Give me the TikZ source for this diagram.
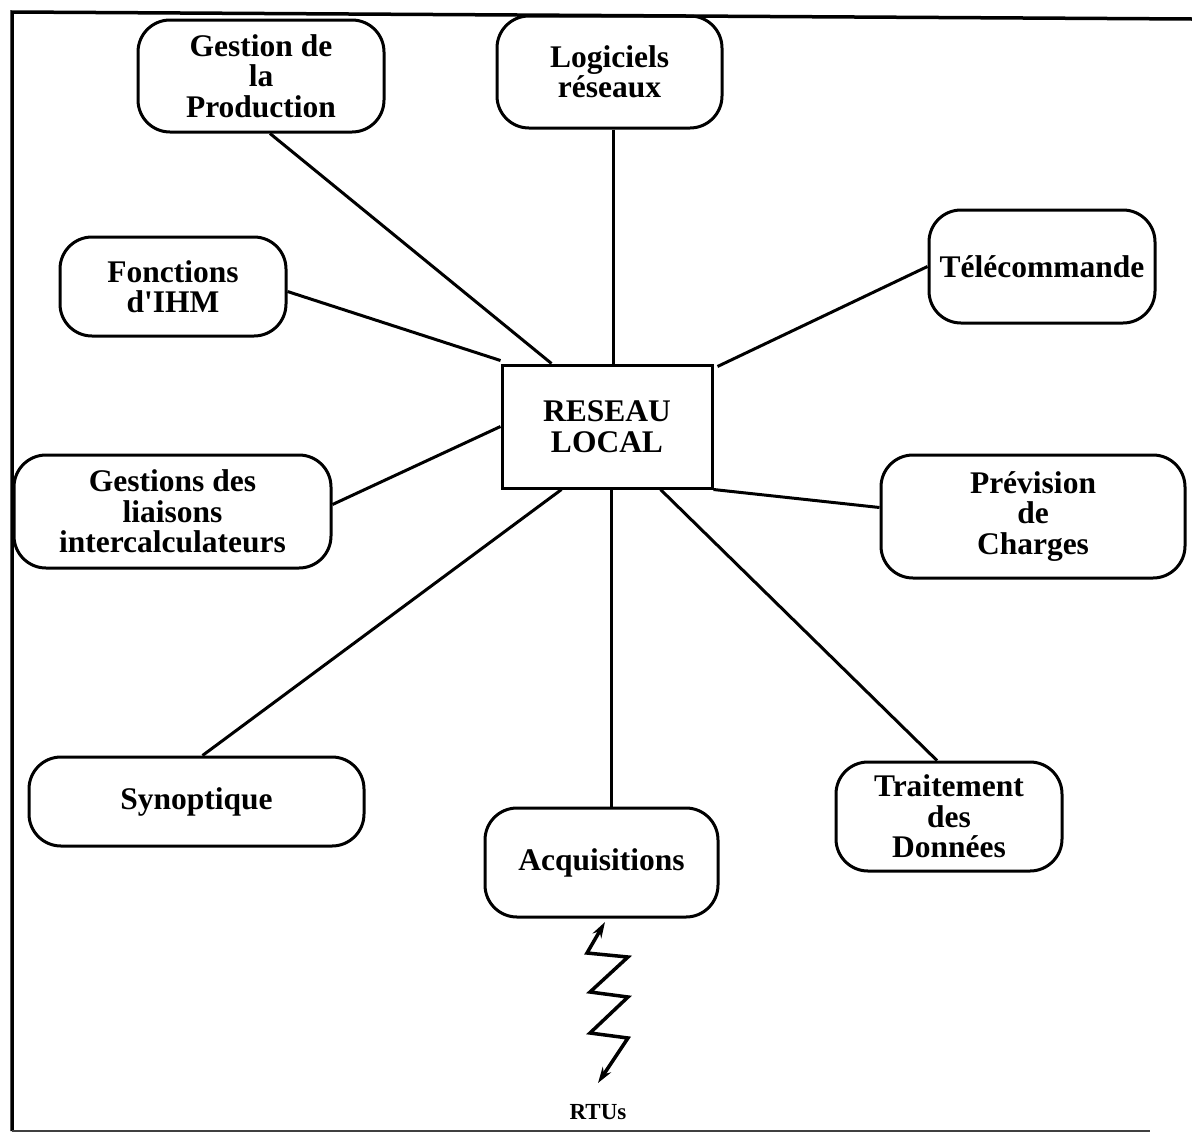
\documentclass[tikz,border=0pt]{standalone}
\usepackage{fontspec}
\newfontfamily\boite{Liberation Serif}
\usetikzlibrary{arrows.meta}
\tikzset{
  bloc/.style={draw, line width=3pt, rounded corners=32pt, align=center,
    inner sep=0pt, font=\boite\bfseries\fontsize{31.5}{30.5}\selectfont},
  centre/.style={draw, line width=3pt, align=center, inner sep=0pt,
    minimum width=210pt, minimum height=123pt,
    font=\boite\bfseries\fontsize{31.5}{31}\selectfont},
  lien/.style={line width=3pt}
}
\begin{document}
\begin{tikzpicture}[x=1pt,y=-1pt]
  \useasboundingbox (0,0) rectangle (1192,1133);
  % cadre
  \draw[line width=3.5pt] (1192,19) -- (12,12) -- (12,1131);
  \draw[line width=1.5pt, black!75] (12,1131) -- (1150,1131);
  % noeuds
  \node[centre] (rl) at (607,426.5) {RESEAU\\LOCAL};
  \node[bloc, minimum width=246pt, minimum height=112pt] (gp) at (261,76) {Gestion de\\la\\Production};
  \node[bloc, minimum width=225pt, minimum height=112pt] (lr) at (609.5,72) {Logiciels\\réseaux};
  \node[bloc, minimum width=226pt, minimum height=113pt] (tc) at (1042,266.5) {Télécommande};
  \node[bloc, minimum width=226pt, minimum height=99pt] (fi) at (173,286.5) {Fonctions\\d'IHM};
  \node[bloc, minimum width=317pt, minimum height=113pt] (gl) at (172.5,511.5) {Gestions des\\liaisons\\intercalculateurs};
  \node[bloc, minimum width=304pt, minimum height=123pt] (pc) at (1033,516.5) {Prévision\\de\\Charges};
  \node[bloc, minimum width=335pt, minimum height=89pt] (sy) at (196.5,801.5) {Synoptique};
  \node[bloc, minimum width=233pt, minimum height=109pt] (ac) at (601.5,862.5) {Acquisitions};
  \node[bloc, minimum width=226pt, minimum height=109pt] (td) at (949,816.5) {Traitement\\des\\Données};
  \node[font=\boite\bfseries\fontsize{23}{23}\selectfont] (rtu) at (598,1112) {RTUs};
  % liaisons
  \begin{scope}[lien]
    \draw ([xshift=9pt]gp.south) -- ([xshift=51pt]rl.north west);
    \draw ([xshift=4pt]lr.south) -- ([xshift=4pt]lr.south |- rl.north);
    \draw (tc.west) -- ([xshift=4pt,yshift=-3pt]rl.north east);
    \draw ([yshift=-5pt]fi.east) -- ([yshift=3pt]rl.north west);
    \draw ([yshift=7pt]gl.east) -- (rl.west);
    \draw ([yshift=9pt]pc.west) -- (rl.south east);
    \draw ([xshift=6pt]sy.north) -- ([xshift=61pt]rl.south west);
    \draw ([xshift=10pt]ac.north) -- ([xshift=10pt]ac.north |- rl.south);
    \draw ([xshift=-12pt]td.north) -- ([xshift=160pt]rl.south west);
  \end{scope}
  % liaison radio
  \coordinate (z0) at (605,922);
  \coordinate (z1) at (587,953);
  \coordinate (z2) at (628,957);
  \coordinate (z3) at (590,992);
  \coordinate (z4) at (628,997);
  \coordinate (z5) at (590,1033);
  \coordinate (z6) at (628,1038);
  \coordinate (z7) at (598,1083);
  \draw[lien, line width=3.5pt, line join=miter, {Stealth[length=16pt,width=10pt]}-{Stealth[length=16pt,width=10pt]}]
    (z0) -- (z1) -- (z2) -- (z3) -- (z4) -- (z5) -- (z6) -- (z7);
\end{tikzpicture}
\end{document}
